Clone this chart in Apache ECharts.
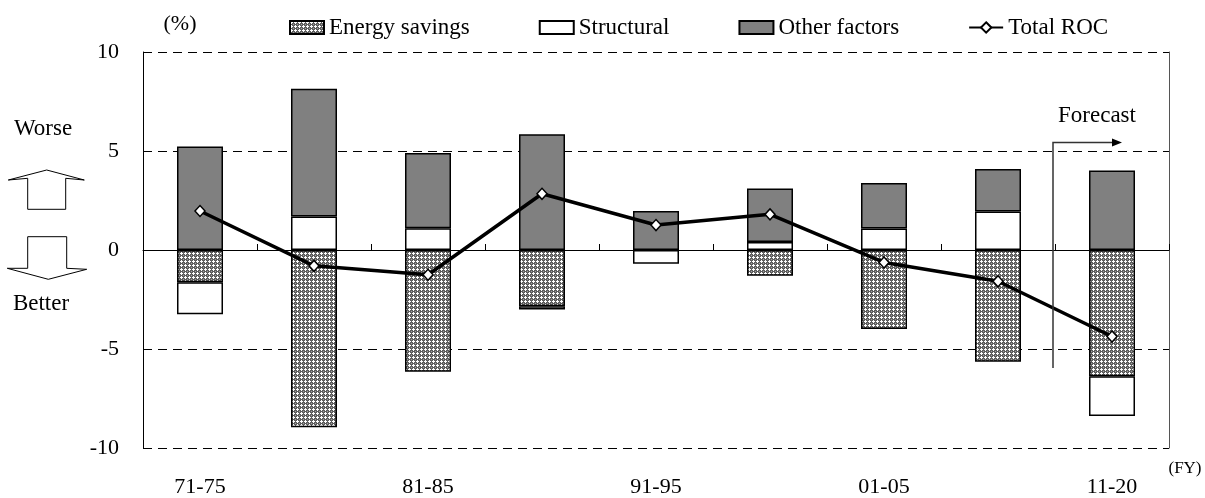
<!DOCTYPE html>
<html>
<head>
<meta charset="utf-8">
<script src="https://cdn.jsdelivr.net/npm/echarts@6/dist/echarts.min.js"></script>
<style>
html,body{margin:0;padding:0;background:#fff;}
#chart{width:1205px;height:498px;}
</style>
</head>
<body>
<div id="chart"></div>
<script>
// ---- data ----
const categories = ['71-75', '76-80', '81-85', '86-90', '91-95', '96-00', '01-05', '06-10', '11-20'];
const energySavings = [-1.63, -8.95, -6.15, -2.84, 0, -1.3, -3.99, -5.65, -6.37];
const structural = [-1.61, 1.69, 1.1, -0.17, -0.70, 0.4, 1.08, 1.94, -2.02];
const otherFactors = [5.23, 6.46, 3.8, 5.84, 1.97, 2.7, 2.31, 2.15, 4.02];
const totalROC = [1.97, -0.80, -1.25, 2.84, 1.26, 1.8, -0.63, -1.58, -4.37];
const yTicks = [-10, -5, 0, 5, 10];
const seriesNames = ['Energy savings', 'Structural', 'Other factors', 'Total ROC'];

const FONT = '"Liberation Serif", "Times New Roman", serif';

// hatch pattern
function makePattern() {
  const c = document.createElement('canvas');
  c.width = 4; c.height = 4;
  const ctx = c.getContext('2d');
  ctx.fillStyle = '#5e5e5e';
  ctx.fillRect(0, 0, 4, 4);
  ctx.fillStyle = '#ffffff';
  ctx.fillRect(1, 0, 1, 1);
  ctx.fillRect(0, 1, 3, 1);
  ctx.fillRect(1, 2, 1, 1);
  ctx.fillStyle = '#a0a0a0';
  ctx.fillRect(3, 3, 1, 1);
  return c;
}
const hatch = { image: makePattern(), repeat: 'repeat' };

const chart = echarts.init(document.getElementById('chart'), null, { renderer: 'canvas' });

const barStyle = (fill) => ({ color: fill, borderColor: '#000', borderWidth: 1.5 });

const option = {
  animation: false,
  backgroundColor: '#fff',
  textStyle: { fontFamily: FONT, color: '#000' },
  legend: {
    left: 284, top: 11,
    itemWidth: 34, itemHeight: 13, itemGap: 69,
    textStyle: { fontFamily: FONT, fontSize: 23, color: '#000' },
    data: [
      { name: seriesNames[0], icon: 'rect' },
      { name: seriesNames[1], icon: 'rect' },
      { name: seriesNames[2], icon: 'rect' },
      { name: seriesNames[3] }
    ]
  },
  grid: { left: 143, right: 36, top: 52, bottom: 45, containLabel: false },
  xAxis: [
    {
      type: 'category', data: categories, position: 'bottom',
      axisLine: { show: false, onZero: false },
      axisTick: { show: false },
      axisLabel: { interval: 1, margin: 28, fontFamily: FONT, fontSize: 22, color: '#000' },
      splitLine: { show: false }
    },
    {
      type: 'category', data: categories, position: 'top',
      axisLine: { show: true, onZero: true, lineStyle: { color: '#000', width: 1 } },
      axisTick: { show: true, inside: false, length: 6, lineStyle: { color: '#000' } },
      axisLabel: { show: false },
      splitLine: { show: false }
    }
  ],
  yAxis: [
    {
      type: 'value', min: yTicks[0], max: yTicks[yTicks.length - 1], interval: 5,
      axisLine: { show: true, lineStyle: { color: '#000', width: 1 } },
      axisTick: { show: true, inside: true, length: 5, lineStyle: { color: '#000' } },
      axisLabel: { margin: 24, fontFamily: FONT, fontSize: 22, color: '#000' },
      splitLine: { show: true, lineStyle: { color: '#000', type: [9, 6], width: 1 } }
    },
    {
      type: 'value', min: yTicks[0], max: yTicks[yTicks.length - 1], interval: 5, position: 'right',
      axisLine: { show: true, lineStyle: { color: '#555', width: 1 } },
      axisTick: { show: false }, axisLabel: { show: false }, splitLine: { show: false }
    }
  ],
  series: [
    { name: seriesNames[0], type: 'bar', stack: 'a', barWidth: 46, data: energySavings, itemStyle: barStyle(hatch), z: 3 },
    { name: seriesNames[1], type: 'bar', stack: 'a', barWidth: 46, data: structural, itemStyle: barStyle('#ffffff'), z: 3 },
    { name: seriesNames[2], type: 'bar', stack: 'a', barWidth: 46, data: otherFactors, itemStyle: barStyle('#808080'), z: 3 },
    {
      name: seriesNames[3], type: 'line', data: totalROC, z: 10,
      symbol: 'diamond', symbolSize: [10, 11], showAllSymbol: true,
      lineStyle: { color: '#000', width: 3.5 },
      itemStyle: { color: '#fff', borderColor: '#000', borderWidth: 1.5 }
    }
  ],
  graphic: [
    { type: 'text', style: { text: '(%)', x: 180, y: 24, font: '22px ' + FONT, fill: '#000', align: 'center', verticalAlign: 'middle' } },
    { type: 'text', style: { text: 'Worse', x: 43, y: 129, font: '23px ' + FONT, fill: '#000', align: 'center', verticalAlign: 'middle' } },
    { type: 'text', style: { text: 'Better', x: 41, y: 304, font: '23px ' + FONT, fill: '#000', align: 'center', verticalAlign: 'middle' } },
    { type: 'polygon', shape: { points: [[8.3,180],[46.7,170],[84.3,180],[65.7,178.3],[65.7,209.3],[27.7,209.3],[27.7,178.3]] }, style: { fill: '#fff', stroke: '#000', lineWidth: 1 } },
    { type: 'polygon', shape: { points: [[27.7,236.7],[66.7,236.7],[66.7,268.3],[86.7,269.3],[48.3,279.3],[7.3,268.3],[27.7,268.3]] }, style: { fill: '#fff', stroke: '#000', lineWidth: 1 } },
    { type: 'text', style: { text: 'Forecast', x: 1097, y: 116, font: '23px ' + FONT, fill: '#000', align: 'center', verticalAlign: 'middle' } },
    { type: 'polyline', shape: { points: [[1053,368],[1053,142.5],[1114,142.5]] }, style: { stroke: '#333', lineWidth: 1.5, fill: null }, z: 20 },
    { type: 'polygon', shape: { points: [[1112,138.5],[1122,142.5],[1112,146.5]] }, style: { fill: '#000' }, z: 20 },
    { type: 'text', style: { text: '(FY)', x: 1185, y: 469, font: '17px ' + FONT, fill: '#000', align: 'center', verticalAlign: 'middle' } }
  ]
};
chart.setOption(option);
</script>
</body>
</html>
